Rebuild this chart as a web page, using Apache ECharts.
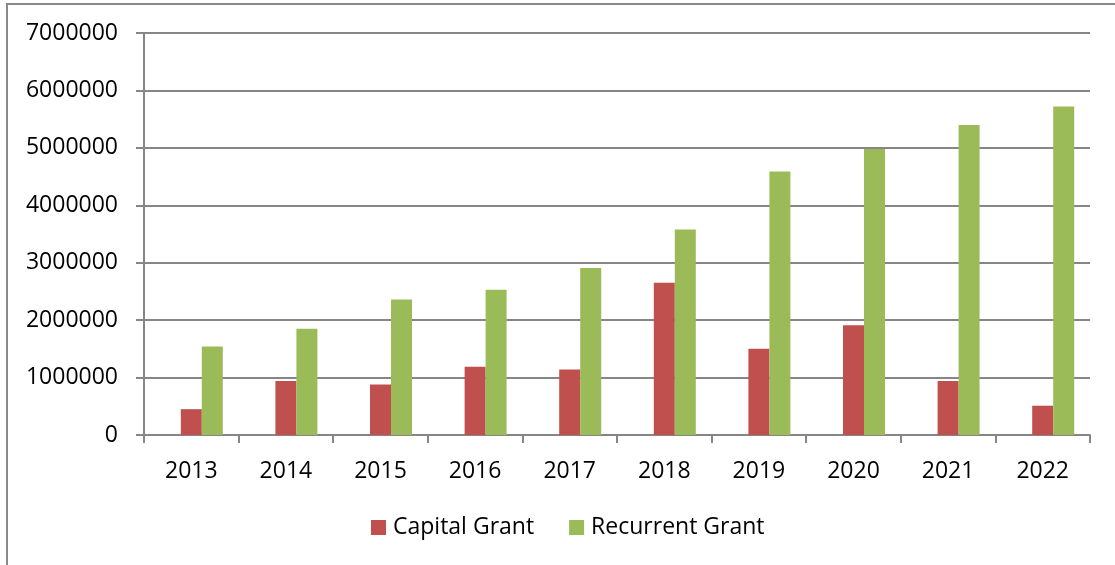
<!DOCTYPE html>
<html>
<head>
<meta charset="utf-8">
<script src="https://cdn.jsdelivr.net/npm/echarts@6/dist/echarts.min.js"></script>
<style>
html,body{margin:0;padding:0;background:#fff;}
#chart{width:1115px;height:565px;}
</style>
</head>
<body>
<div id="chart"></div>
<script>
const years = ['2013','2014','2015','2016','2017','2018','2019','2020','2021','2022'];
const capitalGrant = [450000, 940000, 880000, 1190000, 1140000, 2650000, 1500000, 1910000, 940000, 510000];
const recurrentGrant = [1540000, 1850000, 2360000, 2530000, 2910000, 3580000, 4590000, 4980000, 5400000, 5720000];
const blankSeries = [];
const seriesNames = ['Capital Grant', 'Recurrent Grant'];

const FONT = 'Open Sans';
const FS = 23;
const AXIS_GRAY = '#868686';

const chart = echarts.init(document.getElementById('chart'), null, {renderer: 'canvas'});
chart.setOption({
  animation: false,
  backgroundColor: '#ffffff',
  graphic: [{
    type: 'rect',
    shape: {x: 7, y: 4, width: 1200, height: 700},
    style: {fill: 'none', stroke: '#8a8a8a', lineWidth: 2},
    silent: true
  }],
  grid: {left: 144, right: 25, top: 33, bottom: 130, containLabel: false},
  legend: {
    data: seriesNames,
    left: 371,
    top: 516,
    padding: 0,
    itemWidth: 15,
    itemHeight: 15,
    itemGap: 35,
    icon: 'rect',
    textStyle: {fontFamily: FONT, fontSize: FS, color: '#000', padding: [0, 0, 0, 2]}
  },
  xAxis: {
    type: 'category',
    data: years,
    boundaryGap: true,
    axisLine: {show: true, lineStyle: {color: AXIS_GRAY, width: 2}},
    axisTick: {show: true, length: 8, inside: false, lineStyle: {color: AXIS_GRAY, width: 2}},
    axisLabel: {fontFamily: FONT, fontSize: FS, color: '#000', margin: 25},
    splitLine: {show: false}
  },
  yAxis: {
    type: 'value',
    min: 0,
    max: 7000000,
    interval: 1000000,
    axisLine: {show: true, lineStyle: {color: AXIS_GRAY, width: 2}},
    axisTick: {show: true, length: 8, lineStyle: {color: AXIS_GRAY, width: 2}},
    axisLabel: {fontFamily: FONT, fontSize: FS, color: '#000', margin: 26,
      formatter: function (v) { return String(v); }},
    splitLine: {show: true, lineStyle: {color: AXIS_GRAY, width: 2}}
  },
  series: [
    {name: '', type: 'bar', data: blankSeries, barWidth: '22.2%', barGap: '0%'},
    {name: seriesNames[0], type: 'bar', data: capitalGrant, barWidth: '22.2%', barGap: '0%',
     itemStyle: {color: '#C0504D'}},
    {name: seriesNames[1], type: 'bar', data: recurrentGrant, barWidth: '22.2%', barGap: '0%',
     itemStyle: {color: '#9BBB59'}}
  ]
});
</script>
</body>
</html>
